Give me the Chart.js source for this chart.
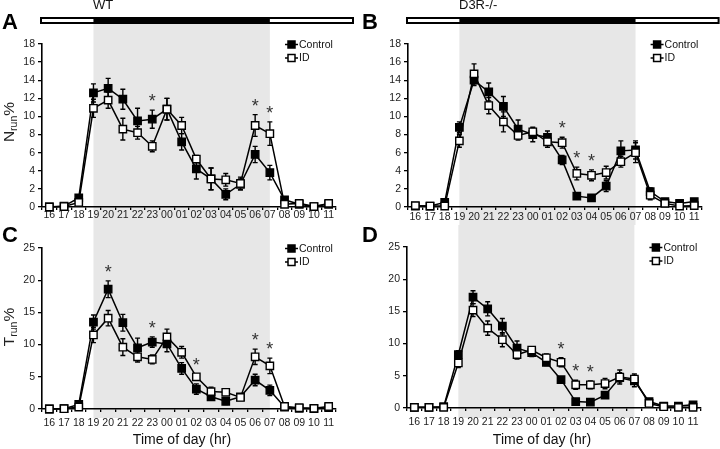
<!DOCTYPE html>
<html>
<head>
<meta charset="utf-8">
<script src="https://cdn.jsdelivr.net/npm/chart.js@4/dist/chart.umd.min.js"></script>
<style>
  html, body { margin: 0; padding: 0; background: #fff; }
  #wrap { position: relative; width: 720px; height: 449px; overflow: hidden; font-family: "Liberation Sans", Arial, sans-serif; color: #111; }
  canvas { position: absolute; }
  .lbl { position: absolute; white-space: nowrap; }
  .letter { font-size: 22px; line-height: 22px; font-weight: bold; color: #000; }
  .geno { font-size: 13px; line-height: 13px; color: #111; }
  .xt { font-size: 14px; line-height: 16px; transform: translate(-50%, -50%); color: #111; }
  .yt { font-size: 15.5px; line-height: 16px; transform: translate(-50%, -50%) rotate(-90deg); color: #222; }
  .yt sub { font-size: 10.5px; vertical-align: -3px; }
</style>
</head>
<body>
<div id="wrap">
  <canvas id="cA" width="360" height="225" style="left:0;top:0"></canvas>
  <canvas id="cB" width="360" height="225" style="left:360px;top:0"></canvas>
  <canvas id="cC" width="360" height="224" style="left:0;top:225px"></canvas>
  <canvas id="cD" width="360" height="224" style="left:360px;top:225px"></canvas>

  <div class="lbl letter" style="left:2px;top:11px">A</div>
  <div class="lbl letter" style="left:362px;top:11px">B</div>
  <div class="lbl letter" style="left:2px;top:224px">C</div>
  <div class="lbl letter" style="left:362px;top:224px">D</div>
  <div class="lbl geno" style="left:93px;top:-2px">WT</div>
  <div class="lbl geno" style="left:459px;top:-2px">D3R-/-</div>
  <div class="lbl yt" style="left:11px;top:122px">N<sub>run</sub>%</div>
  <div class="lbl yt" style="left:11px;top:327px">T<sub>run</sub>%</div>
  <div class="lbl xt" style="left:182px;top:439px">Time of day (hr)</div>
  <div class="lbl xt" style="left:542px;top:439px">Time of day (hr)</div>
</div>
<script>
// ---- categories ----
const hours = ['16','17','18','19','20','21','22','23','00','01','02','03','04','05','06','07','08','09','10','11'];
const darkStart = '19';
const darkEnd = '07';
const seriesNames = ['Control', 'ID'];

// ---- Panel A: WT, Nrun% ----
const wtNrunCtrl    = [0, 0.1, 1.0, 12.6, 13.1, 11.9, 9.5, 9.7, 10.8, 7.2, 4.2, 3.1, 1.4, 2.5, 5.8, 3.8, 0.8, 0.3, 0.05, 0.3];
const wtNrunCtrlErr = [0.1, 0.1, 0.3, 1.0, 1.1, 1.1, 1.4, 1.0, 1.2, 0.9, 1.1, 1.2, 0.6, 0.6, 0.9, 0.8, 0.3, 0.2, 0.1, 0.2];
const wtNrunID      = [0, 0.05, 0.5, 10.9, 11.8, 8.6, 8.2, 6.7, 10.8, 9.0, 5.3, 3.1, 3.0, 2.6, 9.0, 8.1, 0.3, 0.4, 0.05, 0.4];
const wtNrunIDErr   = [0.1, 0.1, 0.2, 1.0, 0.9, 1.2, 0.7, 0.6, 1.2, 0.9, 0.4, 1.2, 0.7, 0.7, 1.2, 1.3, 0.2, 0.2, 0.1, 0.2];
const wtNrunSig     = ['23', '06', '07'];

// ---- Panel B: D3R-/-, Nrun% ----
const koNrunCtrl    = [0.1, 0.1, 0.5, 8.8, 14.0, 12.7, 11.1, 8.6, 8.0, 7.7, 5.2, 1.2, 1.0, 2.3, 6.2, 6.3, 1.7, 0.6, 0.4, 0.6];
const koNrunCtrlErr = [0.1, 0.1, 0.2, 0.6, 0.6, 1.0, 1.1, 1.0, 0.8, 0.7, 0.5, 0.2, 0.2, 0.6, 1.1, 1.0, 0.4, 0.2, 0.1, 0.2];
const koNrunID      = [0.15, 0.1, 0.1, 7.3, 14.7, 11.2, 9.4, 7.9, 8.3, 7.2, 7.1, 3.7, 3.5, 3.8, 5.0, 6.0, 1.3, 0.4, 0.1, 0.15];
const koNrunIDErr   = [0.1, 0.1, 0.1, 0.7, 1.1, 0.9, 1.1, 0.5, 0.4, 0.6, 0.6, 0.7, 0.6, 0.7, 0.6, 1.1, 0.5, 0.2, 0.1, 0.1];
const koNrunSig     = ['02', '03', '04'];

// ---- Panel C: WT, Trun% ----
const wtTrunCtrl    = [0, 0.05, 0.7, 13.5, 18.6, 13.4, 9.5, 10.4, 10.1, 6.3, 3.1, 1.9, 1.2, 1.9, 4.5, 2.9, 0.3, 0.1, 0.05, 0.2];
const wtTrunCtrlErr = [0.1, 0.1, 0.3, 1.1, 1.3, 1.3, 1.5, 0.8, 1.2, 0.9, 0.8, 0.5, 0.5, 0.3, 0.9, 0.8, 0.2, 0.1, 0.1, 0.1];
const wtTrunID      = [0, 0.05, 0.3, 11.5, 14.1, 9.6, 8.1, 7.7, 11.2, 8.8, 5.0, 2.7, 2.6, 1.8, 8.1, 6.7, 0.4, 0.2, 0.1, 0.4];
const wtTrunIDErr   = [0.1, 0.1, 0.2, 1.2, 1.2, 1.3, 0.8, 0.7, 1.2, 0.9, 0.4, 0.7, 0.4, 0.4, 1.2, 1.2, 0.2, 0.1, 0.1, 0.2];
const wtTrunSig     = ['20', '23', '02', '06', '07'];

// ---- Panel D: D3R-/-, Trun% ----
const koTrunCtrl    = [0.1, 0.1, 0.2, 8.3, 17.2, 15.4, 12.7, 9.3, 8.6, 7.1, 4.4, 1.0, 0.9, 2.0, 4.7, 4.2, 1.0, 0.3, 0.3, 0.5];
const koTrunCtrlErr = [0.1, 0.1, 0.1, 0.6, 1.0, 1.1, 1.2, 1.1, 0.6, 0.5, 0.3, 0.2, 0.2, 0.3, 0.8, 0.9, 0.3, 0.1, 0.1, 0.2];
const koTrunID      = [0.1, 0.1, 0.1, 7.0, 15.2, 12.4, 10.6, 8.3, 9.0, 7.8, 7.1, 3.6, 3.6, 3.8, 4.8, 4.5, 0.7, 0.2, 0.1, 0.1];
const koTrunIDErr   = [0.1, 0.1, 0.1, 0.7, 1.0, 1.1, 1.1, 0.7, 0.5, 0.6, 0.7, 0.7, 0.6, 0.8, 1.1, 0.8, 0.3, 0.1, 0.1, 0.1];
const koTrunSig     = ['02', '03', '04'];

// ---- axis ticks ----
const nrunAxis = { min: 0, max: 18, step: 2 };
const trunAxis = { min: 0, max: 25, step: 5 };

const FONT = '"Liberation Sans", Arial, sans-serif';

const panelPlugin = {
  id: 'panel',
  beforeDraw(chart, args, o) {
    const { ctx, chartArea, scales: { x } } = chart;
    const x0 = x.getPixelForValue(hours.indexOf(darkStart));
    const x1 = x.getPixelForValue(hours.indexOf(darkEnd));
    ctx.save();
    ctx.fillStyle = '#e7e7e7';
    ctx.fillRect(x0, o.grayTop, x1 - x0, o.grayBottom - o.grayTop);
    if (o.lightBar) {
      const bx0 = chartArea.left - 1, bx1 = chartArea.right + 17;
      const by = 18, bh = 5;
      ctx.fillStyle = '#fff';
      ctx.fillRect(bx0, by, bx1 - bx0, bh);
      ctx.strokeStyle = '#000';
      ctx.lineWidth = 2;
      ctx.strokeRect(bx0, by, bx1 - bx0, bh);
      ctx.fillStyle = '#000';
      ctx.fillRect(x0, by - 1, x1 - x0, bh + 2);
    }
    ctx.restore();
  },
  beforeDatasetsDraw(chart, args, o) {
    const { ctx, scales: { y } } = chart;
    ctx.save();
    ctx.strokeStyle = '#000';
    ctx.lineWidth = 1.4;
    chart.data.datasets.forEach((ds, i) => {
      const meta = chart.getDatasetMeta(i);
      ds.data.forEach((v, j) => {
        const e = ds.err[j];
        const px = meta.data[j].x;
        const yt = y.getPixelForValue(v + e);
        const yb = y.getPixelForValue(Math.max(v - e, 0));
        ctx.beginPath();
        ctx.moveTo(px, yt); ctx.lineTo(px, yb);
        ctx.moveTo(px - 2.5, yt); ctx.lineTo(px + 2.5, yt);
        ctx.moveTo(px - 2.5, yb); ctx.lineTo(px + 2.5, yb);
        ctx.stroke();
      });
    });
    ctx.restore();
  },
  afterDatasetsDraw(chart, args, o) {
    const { ctx, chartArea, scales: { x, y } } = chart;
    ctx.save();
    // significance asterisks
    ctx.fillStyle = '#333';
    ctx.font = '18px ' + FONT;
    ctx.textAlign = 'center';
    ctx.textBaseline = 'middle';
    o.sig.forEach(lab => {
      const j = hours.indexOf(lab);
      let top = 0;
      chart.data.datasets.forEach(ds => { top = Math.max(top, ds.data[j] + ds.err[j]); });
      const px = x.getPixelForValue(j);
      const py = y.getPixelForValue(top) - 12;
      ctx.fillText('*', px, py + 4);
    });
    // legend
    const lx = chartArea.right - 51;
    const entries = [
      { name: seriesNames[0], fill: '#000', dy: 0.5 },
      { name: seriesNames[1], fill: '#fff', dy: 14 }
    ];
    ctx.font = '10.5px ' + FONT;
    ctx.textAlign = 'left';
    entries.forEach(en => {
      const ly = chartArea.top + en.dy;
      ctx.strokeStyle = '#000';
      ctx.lineWidth = 1.5;
      ctx.beginPath(); ctx.moveTo(lx, ly); ctx.lineTo(lx + 13, ly); ctx.stroke();
      ctx.fillStyle = en.fill;
      ctx.fillRect(lx + 3, ly - 3.5, 7, 7);
      ctx.strokeRect(lx + 3, ly - 3.5, 7, 7);
      ctx.fillStyle = '#111';
      ctx.fillText(en.name, lx + 14, ly + 0.5);
    });
    ctx.restore();
  }
};

function makeChart(id, cfg) {
  const ctrlDs = {
    label: seriesNames[0], data: cfg.ctrl, err: cfg.ctrlErr, order: 1,
    borderColor: '#000', borderWidth: 1.5, backgroundColor: '#000',
    pointStyle: 'rect', pointRadius: 5.2, pointBorderWidth: 1.4,
    pointBackgroundColor: '#000', pointBorderColor: '#000', tension: 0, clip: false
  };
  const idDs = {
    label: seriesNames[1], data: cfg.id, err: cfg.idErr, order: 0,
    borderColor: '#000', borderWidth: 1.5, backgroundColor: '#fff',
    pointStyle: 'rect', pointRadius: 5.2, pointBorderWidth: 1.4,
    pointBackgroundColor: '#fff', pointBorderColor: '#000', tension: 0, clip: false
  };
  return new Chart(document.getElementById(id), {
    type: 'line',
    data: { labels: hours, datasets: [ctrlDs, idDs] },
    plugins: [panelPlugin],
    options: {
      responsive: false,
      animation: false,
      devicePixelRatio: 1,
      layout: { padding: { left: 0, top: cfg.top, right: cfg.right, bottom: 0 } },
      plugins: {
        legend: { display: false },
        tooltip: { enabled: false },
        panel: { grayTop: cfg.grayTop, grayBottom: cfg.grayBottom, lightBar: cfg.lightBar, sig: cfg.sig }
      },
      scales: {
        x: {
          type: 'category',
          offset: true,
          grid: { display: true, offset: true, drawOnChartArea: false, drawTicks: true, tickLength: 3, color: '#000', lineWidth: 1.3 },
          border: { display: true, color: '#000', width: 1.6 },
          ticks: { autoSkip: false, maxRotation: 0, minRotation: 0, padding: cfg.xPad, color: '#222', font: { family: FONT, size: 10.5 } },
          afterFit: s => { s.height = cfg.xH; }
        },
        y: {
          min: cfg.axis.min, max: cfg.axis.max,
          grid: { display: true, drawOnChartArea: false, drawTicks: true, tickLength: 4, color: '#000', lineWidth: 1.3 },
          border: { display: true, color: '#000', width: 1.6 },
          ticks: { stepSize: cfg.axis.step, padding: 3, color: '#222', font: { family: FONT, size: 10.5 } },
          afterFit: s => { s.width = cfg.yW; }
        }
      }
    }
  });
}

makeChart('cA', { ctrl: wtNrunCtrl, ctrlErr: wtNrunCtrlErr, id: wtNrunID, idErr: wtNrunIDErr, sig: wtNrunSig,
  axis: nrunAxis, top: 44, right: 24, xH: 18, yW: 42, xPad: -1, grayTop: 24, grayBottom: 225, lightBar: true });
makeChart('cB', { ctrl: koNrunCtrl, ctrlErr: koNrunCtrlErr, id: koNrunID, idErr: koNrunIDErr, sig: koNrunSig,
  axis: nrunAxis, top: 44, right: 18.4, xH: 18, yW: 48, xPad: 1, grayTop: 24, grayBottom: 225, lightBar: true });
makeChart('cC', { ctrl: wtTrunCtrl, ctrlErr: wtTrunCtrlErr, id: wtTrunID, idErr: wtTrunIDErr, sig: wtTrunSig,
  axis: trunAxis, top: 23, right: 24, xH: 40, yW: 42, xPad: 5, grayTop: 0, grayBottom: 193, lightBar: false });
makeChart('cD', { ctrl: koTrunCtrl, ctrlErr: koTrunCtrlErr, id: koTrunID, idErr: koTrunIDErr, sig: koTrunSig,
  axis: trunAxis, top: 22, right: 19.6, xH: 41, yW: 47, xPad: 5, grayTop: 0, grayBottom: 193, lightBar: false });
</script>
</body>
</html>
